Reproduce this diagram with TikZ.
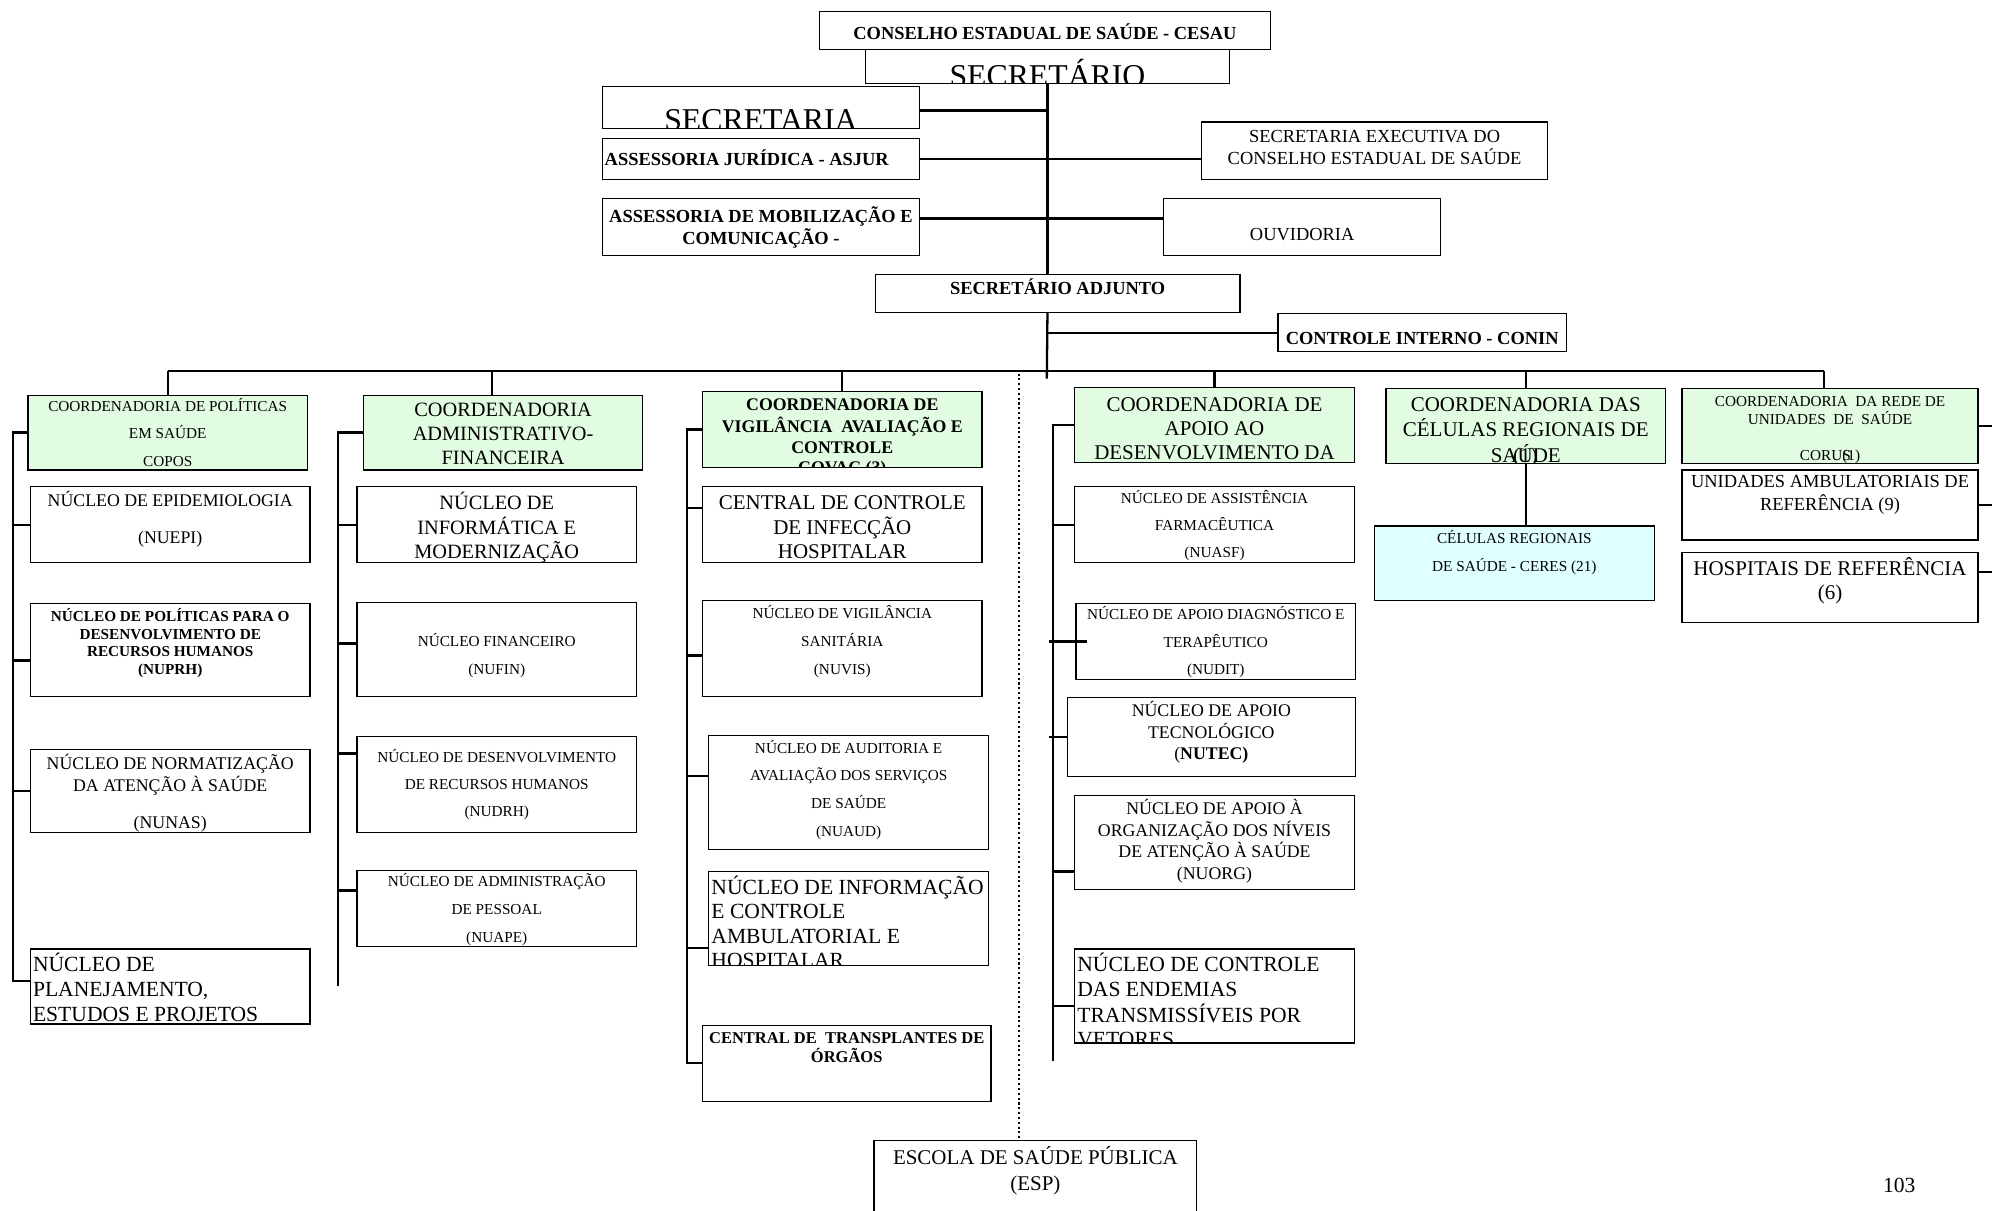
\documentclass[tikz,border=0pt]{standalone}
\usepackage{fontspec}
\setmainfont{Liberation Serif}
\definecolor{coordgreen}{RGB}{226,252,226}
\definecolor{cellcyan}{RGB}{224,255,255}
\newcommand{\fz}[2]{\fontsize{#1}{#2}\selectfont}
\tikzset{
  orgbox/.style={draw, anchor=north west, inner sep=0pt, outer sep=0pt, line width=0.9pt},
  coordbox/.style={orgbox, fill=coordgreen},
  wh/.style 2 args={minimum width=#1pt, minimum height=#2pt},
  conn/.style={line width=1.8pt},
  dotline/.style={line width=1.6pt, dash pattern=on 1.6pt off 2.2pt},
  txt/.style n args={3}{path picture={\node[anchor=base, inner sep=0pt, minimum width=0pt, minimum height=0pt, font=#1] at ([yshift=-#2]path picture bounding box.north) {\begin{tabular}[t]{@{}c@{}}#3\end{tabular}};}},
  ltxt/.style n args={3}{path picture={\node[anchor=base west, inner sep=0pt, minimum width=0pt, minimum height=0pt, font=#1] at ([xshift=2pt,yshift=-#2]path picture bounding box.north west) {\begin{tabular}[t]{@{}l@{}}#3\end{tabular}};}},
}

\begin{document}
\begin{tikzpicture}[x=1pt, y=-1pt]
\useasboundingbox (0,0) rectangle (1568,953);
\fill[white] (0,0) rectangle (1568,953);

\node[orgbox, wh={355}{30}, txt={\bfseries\fz{14.5}{17}}{22pt}{CONSELHO ESTADUAL DE SAÚDE - CESAU}] (cesau) at (645,9) {};
\node[orgbox, wh={287}{27}, txt={\fz{25}{28}}{29pt}{SECRETÁRIO}] (sec) at (681,39) {};
\node[orgbox, wh={250}{33}, txt={\fz{25}{28}}{35pt}{SECRETARIA}] (secr) at (474,68) {};
\node[orgbox, wh={250}{32}, ltxt={\bfseries\fz{14.5}{17}}{21pt}{ASSESSORIA JURÍDICA - ASJUR}] (asjur) at (474,109) {};
\node[orgbox, wh={250}{45}, txt={\bfseries\fz{14.5}{17}}{19pt}{ASSESSORIA DE MOBILIZAÇÃO E\\COMUNICAÇÃO -}] (mob) at (474,156) {};
\node[orgbox, wh={272}{45}, txt={\fz{14.5}{17}}{16pt}{SECRETARIA EXECUTIVA DO\\CONSELHO ESTADUAL DE SAÚDE}] (secex) at (946,96) {};
\node[orgbox, wh={218}{45}, txt={\fz{14.5}{17}}{33pt}{OUVIDORIA}] (ouv) at (916,156) {};
\node[orgbox, wh={287}{30}, txt={\bfseries\fz{14.5}{17}}{16pt}{SECRETÁRIO ADJUNTO}] (adj) at (689,216) {};
\node[orgbox, wh={227}{30}, txt={\bfseries\fz{14.5}{17}}{24pt}{CONTROLE INTERNO - CONIN}] (conin) at (1006,247) {};

\node[coordbox, wh={220}{59}, txt={\fz{12}{21.5}}{13pt}{COORDENADORIA DE POLÍTICAS\\EM SAÚDE\\COPOS}] (copos) at (22,311) {};
\node[coordbox, wh={220}{59}, txt={\fz{16}{19}}{17pt}{COORDENADORIA\\ADMINISTRATIVO-\\FINANCEIRA}] (coaf) at (286,311) {};
\node[coordbox, wh={220}{60}, txt={\bfseries\fz{14}{16.5}}{15pt}{COORDENADORIA DE\\VIGILÂNCIA\ \ AVALIAÇÃO E\\CONTROLE\\COVAC (3)}] (covac) at (553,308) {};
\node[coordbox, wh={220}{59}, txt={\fz{16.5}{19}}{19pt}{COORDENADORIA DE\\APOIO AO\\DESENVOLVIMENTO DA}] (cads) at (846,305) {};
\node[coordbox, wh={220}{59}, txt={\fz{16.5}{19}}{18pt}{COORDENADORIA DAS\\CÉLULAS REGIONAIS DE\\SA\makebox[0pt][l]{\hspace{-3.5pt}(1)}ÚDE}] (ccrs) at (1091,306) {};
\node[coordbox, wh={233}{59}, txt={\fz{12}{14}}{14pt}{COORDENADORIA\ \ DA REDE DE\\UNIDADES\ \ DE\ \ SAÚDE\\[14pt]CORU\makebox[0pt][l]{S}(1)}] (corus) at (1324,306) {};

\node[orgbox, wh={220}{60}, txt={\fz{14}{29}}{16pt}{NÚCLEO DE EPIDEMIOLOGIA\\(NUEPI)}] (nuepi) at (24,383) {};
\node[orgbox, wh={220}{73}, txt={\bfseries\fz{12}{14}}{14pt}{NÚCLEO DE POLÍTICAS PARA O\\DESENVOLVIMENTO DE\\RECURSOS HUMANOS\\(NUPRH)}] (nuprh) at (24,475) {};
\node[orgbox, wh={220}{65}, txt={\fz{14}{17}}{16pt}{NÚCLEO DE NORMATIZAÇÃO\\DA ATENÇÃO À SAÚDE\\[12pt](NUNAS)}] (nunas) at (24,590) {};
\node[orgbox, wh={220}{59}, ltxt={\fz{17}{19.5}}{18pt}{NÚCLEO DE\\PLANEJAMENTO,\\ESTUDOS E PROJETOS}] (nuplan) at (24,747) {};

\node[orgbox, wh={220}{60}, txt={\fz{16}{19}}{18pt}{NÚCLEO DE\\INFORMÁTICA E\\MODERNIZAÇÃO}] (nuinf) at (281,383) {};
\node[orgbox, wh={220}{74}, txt={\fz{12}{22}}{35pt}{NÚCLEO FINANCEIRO\\(NUFIN)}] (nufin) at (281,474) {};
\node[orgbox, wh={220}{75}, txt={\fz{12}{21.5}}{20pt}{NÚCLEO DE DESENVOLVIMENTO\\DE RECURSOS HUMANOS\\(NUDRH)}] (nudrh) at (281,580) {};
\node[orgbox, wh={220}{60}, txt={\fz{12}{22}}{13pt}{NÚCLEO DE ADMINISTRAÇÃO\\DE PESSOAL\\(NUAPE)}] (nuape) at (281,685) {};

\node[orgbox, wh={220}{60}, txt={\fz{16.5}{19}}{18pt}{CENTRAL DE CONTROLE\\DE INFECÇÃO\\HOSPITALAR}] (ccih) at (553,383) {};
\node[orgbox, wh={220}{75}, txt={\fz{12}{22}}{14pt}{NÚCLEO DE VIGILÂNCIA\\SANITÁRIA\\(NUVIS)}] (nuvis) at (553,473) {};
\node[orgbox, wh={220}{90}, txt={\fz{12}{21.7}}{14pt}{NÚCLEO DE AUDITORIA E\\AVALIAÇÃO DOS SERVIÇOS\\DE SAÚDE\\(NUAUD)}] (nuaud) at (558,579) {};
\node[orgbox, wh={220}{74}, ltxt={\fz{17}{19.2}}{18pt}{NÚCLEO DE INFORMAÇÃO\\E CONTROLE\\AMBULATORIAL E\\HOSPITALAR}] (nuicah) at (558,686) {};
\node[orgbox, wh={227}{60}, txt={\bfseries\fz{13}{14}}{14pt}{CENTRAL DE\ \ TRANSPLANTES DE\\ÓRGÃOS}] (cncdo) at (553,807) {};

\node[orgbox, wh={220}{60}, txt={\fz{12}{21.5}}{13pt}{NÚCLEO DE ASSISTÊNCIA\\FARMACÊUTICA\\(NUASF)}] (nuasf) at (846,383) {};
\node[orgbox, wh={220}{60}, txt={\fz{12}{21.5}}{13pt}{NÚCLEO DE APOIO DIAGNÓSTICO E\\TERAPÊUTICO\\(NUDIT)}] (nudit) at (847,475) {};
\node[orgbox, wh={227}{62}, txt={\fz{14}{17}}{15pt}{NÚCLEO DE APOIO\\TECNOLÓGICO\\(\textbf{NUTEC)}}] (nutec) at (840,549) {};
\node[orgbox, wh={220}{74}, txt={\fz{14}{17}}{15pt}{NÚCLEO DE APOIO À\\ORGANIZAÇÃO DOS NÍVEIS\\DE ATENÇÃO À SAÚDE\\(NUORG)}] (nuorg) at (846,626) {};
\node[orgbox, wh={220}{74}, ltxt={\fz{17}{19.3}}{18pt}{NÚCLEO DE CONTROLE\\DAS ENDEMIAS\\TRANSMISSÍVEIS POR\\VETORES}] (nuvet) at (846,747) {};

\node[orgbox, fill=cellcyan, wh={220}{59}, txt={\fz{12}{22}}{14pt}{CÉLULAS REGIONAIS\\DE SAÚDE - CERES (21)}] (ceres) at (1082,414) {};
\node[orgbox, wh={233}{55}, txt={\fz{14.5}{17}}{14pt}{UNIDADES AMBULATORIAIS DE\\REFERÊNCIA (9)}] (uar) at (1324,370) {};
\node[orgbox, wh={233}{55}, txt={\fz{16.5}{19}}{18pt}{HOSPITAIS DE REFERÊNCIA\\(6)}] (hosp) at (1324,435) {};
\node[orgbox, wh={254}{70}, txt={\fz{16.5}{20}}{19pt}{ESCOLA DE SAÚDE PÚBLICA\\(ESP)}] (esp) at (688,898) {};
\node[anchor=base, inner sep=0pt, font=\fz{17}{20}] (pagenum) at (1495,939) {103};

\coordinate (bus) at (824,292);
\coordinate (trunkend) at (824,298);
\coordinate (s2end) at (266,776);
\coordinate (s3) at (541,0);
\coordinate (s4end) at (829,835);
\coordinate (edge) at (1568,0);
\coordinate (dotstart) at (802,294);

\draw[conn] (sec.south) -- (sec.south |- adj.north);
\draw[conn] (sec.south |- adj.south) -- (trunkend);
\draw[conn] ([yshift=-2.5]secr.east) -- ([yshift=-2.5]secr.east -| sec.south);
\draw[conn] (asjur.east) -- (asjur.east -| secex.west);
\draw[conn] ([yshift=6.5]mob.east) -- ([yshift=6.5]mob.east -| ouv.west);
\draw[conn] (conin.west) -- (conin.west -| sec.south);

\draw[conn] (copos.north |- bus) -- ([xshift=-5]corus.north |- bus);
\foreach \n in {copos, covac, cads, ccrs}
  \draw[conn] (\n.north) -- (\n.north |- bus);
\draw[conn] ([xshift=-9]coaf.north) -- ([xshift=-9]coaf.north |- bus);
\draw[conn] ([xshift=-5]corus.north) -- ([xshift=-5]corus.north |- bus);
\draw[dotline] (dotstart) -- (dotstart |- esp.north);

\draw[conn] (copos.west) -- ++(-12,0) |- ([yshift=4.5]nuplan.west);
\foreach \n/\dy in {nuepi/0, nuprh/-8.5, nunas/0}
  \draw[conn] ([yshift=\dy]\n.west) -- ++(-14,0);

\draw[conn] (coaf.west) -- ++(-20,0) -- (s2end);
\foreach \n/\dy in {nuinf/0, nufin/4.5, nudrh/24.5, nuape/14}
  \draw[conn] ([yshift=\dy]\n.west) -- ([yshift=\dy]\n.west -| s2end);

\draw[conn] (covac.west) -- ++(-12,0) |- (cncdo.west);
\foreach \n/\dy in {ccih/13, nuvis/-5.5, nuaud/13, nuicah/-23}
  \draw[conn] ([yshift=\dy]\n.west) -- ([yshift=\dy]\n.west -| s3);

\draw[conn] (cads.west) -- ++(-17,0) -- (s4end);
\foreach \n/\dy in {nuasf/0, nuorg/-23, nuvet/-8}
  \draw[conn] ([yshift=\dy]\n.west) -- ([yshift=\dy]\n.west -| s4end);
\draw[conn] ([xshift=9]nudit.west) -- ([xshift=-3]nudit.west -| s4end);
\draw[conn] (nutec.west) -- ([xshift=-3]nutec.west -| s4end);

\draw[conn] (ccrs.south) -- (ccrs.south |- ceres.north);
\foreach \n/\dy in {corus/0, uar/0, hosp/12.5}
  \draw[conn] ([yshift=\dy]\n.east) -- ([yshift=\dy]\n.east -| edge);
\end{tikzpicture}
\end{document}
